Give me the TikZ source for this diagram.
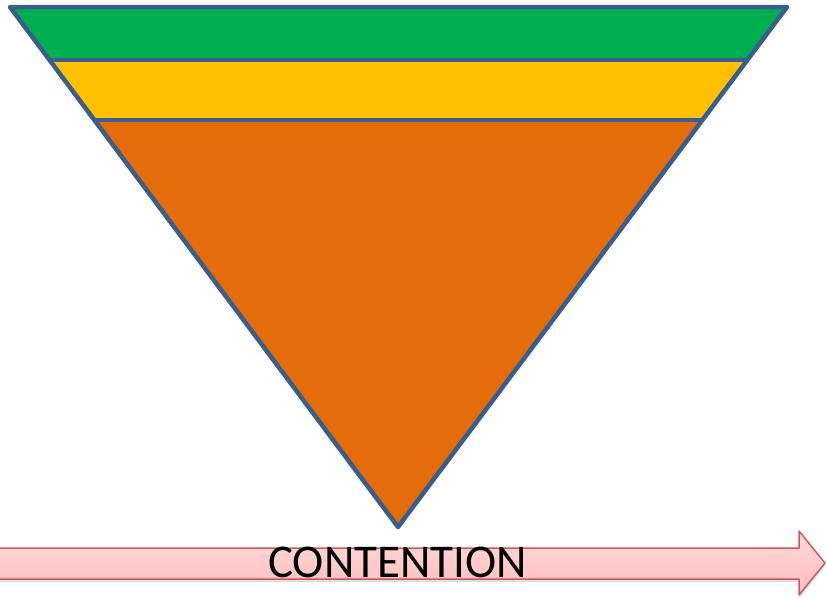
\documentclass[tikz,border=0pt]{standalone}
\usepackage{fontspec}
\setmainfont{Carlito}
\usetikzlibrary{calc,shadows}
\definecolor{bandgreen}{HTML}{00B050}
\definecolor{bandyellow}{HTML}{FFC000}
\definecolor{bandorange}{HTML}{E46C0A}
\definecolor{edgeblue}{HTML}{3A5E8C}
\definecolor{arrowred}{HTML}{CC5A58}
\definecolor{arrowtop}{HTML}{FFDADA}
\definecolor{arrowbot}{HTML}{FFBCBC}

\begin{document}
\begin{tikzpicture}[x=1pt,y=-1pt,line join=round,
 band/.style={draw=edgeblue,line width=4.5pt},
 flow/.style={draw=arrowred,line width=1.5pt,top color=arrowtop,bottom color=arrowbot,
  drop shadow={shadow xshift=0pt,shadow yshift=-3pt,opacity=0.25}}]
\useasboundingbox (0,0) rectangle (827,598);
% triangle corners
\coordinate (tl) at (10,7);
\coordinate (tr) at (787,7);
\coordinate (ap) at (398,527);
% band borders
\coordinate (gl) at ($(tl)!0.102!(ap)$);
\coordinate (gr) at ($(tr)!0.102!(ap)$);
\coordinate (yl) at ($(tl)!0.217!(ap)$);
\coordinate (yr) at ($(tr)!0.217!(ap)$);
\fill[bandorange] (yl) -- (yr) -- (ap) -- cycle;
\fill[bandyellow] (gl) -- (gr) -- (yr) -- (yl) -- cycle;
\fill[bandgreen] (tl) -- (tr) -- (gr) -- (gl) -- cycle;
\draw[band] (gl) -- (gr) (yl) -- (yr);
\draw[band] (tl) -- (tr) -- (ap) -- cycle;
% arrow
\draw[flow] (-5,548) -- (799,548) -- (799,531) -- (825,563) -- (799,595) -- (799,579) -- (-5,579) -- cycle;
\node[anchor=base,inner sep=0pt,font=\fontsize{47}{47}\selectfont] (lbl) at (397.5,577) {CONTENTION};
\end{tikzpicture}
\end{document}
